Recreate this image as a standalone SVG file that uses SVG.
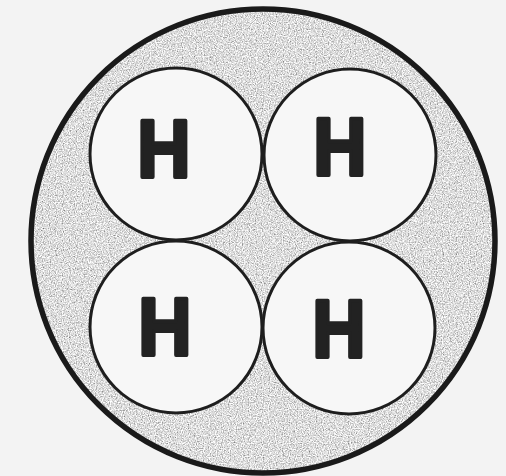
<svg xmlns="http://www.w3.org/2000/svg" width="506" height="476" viewBox="0 0 506 476">
  <style>
    .atom { fill: #f7f7f7; stroke: #1e1e1e; stroke-width: 3; }
    .lbl { font-family: "Liberation Sans", Arial, sans-serif; font-weight: bold; font-size: 82px; fill: #222; stroke: #222; stroke-width: 4; stroke-linejoin: round; text-anchor: middle; }
  </style>
  <defs>
    <filter id="speckle" x="0" y="0" width="100%" height="100%">
      <feTurbulence type="fractalNoise" baseFrequency="0.85" numOctaves="2" seed="3" result="n"/>
      <feColorMatrix in="n" type="matrix" values="1.4 0 0 0 0.02  1.4 0 0 0 0.02  1.4 0 0 0 0.02  0 0 0 0 1" result="g"/>
      <feComposite in="g" in2="SourceGraphic" operator="in"/>
    </filter>
  </defs>
  <rect width="506" height="476" fill="#f3f3f3"/>
  <g id="molecule">
    <circle cx="263" cy="241" r="232" fill="#c6c6c6" filter="url(#speckle)"/>
    <circle cx="263" cy="241" r="232" fill="none" stroke="#1a1a1a" stroke-width="5.5"/>
  </g>
  <g id="h1">
    <circle class="atom" cx="176" cy="154" r="86"/>
    <text class="lbl" transform="translate(164 177) scale(0.9 1)">H</text>
  </g>
  <g id="h2">
    <circle class="atom" cx="350" cy="155" r="86"/>
    <text class="lbl" transform="translate(340 175) scale(0.9 1)">H</text>
  </g>
  <g id="h3">
    <circle class="atom" cx="176" cy="327" r="86"/>
    <text class="lbl" transform="translate(165 355) scale(0.9 1)">H</text>
  </g>
  <g id="h4">
    <circle class="atom" cx="349" cy="328" r="86"/>
    <text class="lbl" transform="translate(339 357) scale(0.9 1)">H</text>
  </g>
</svg>
